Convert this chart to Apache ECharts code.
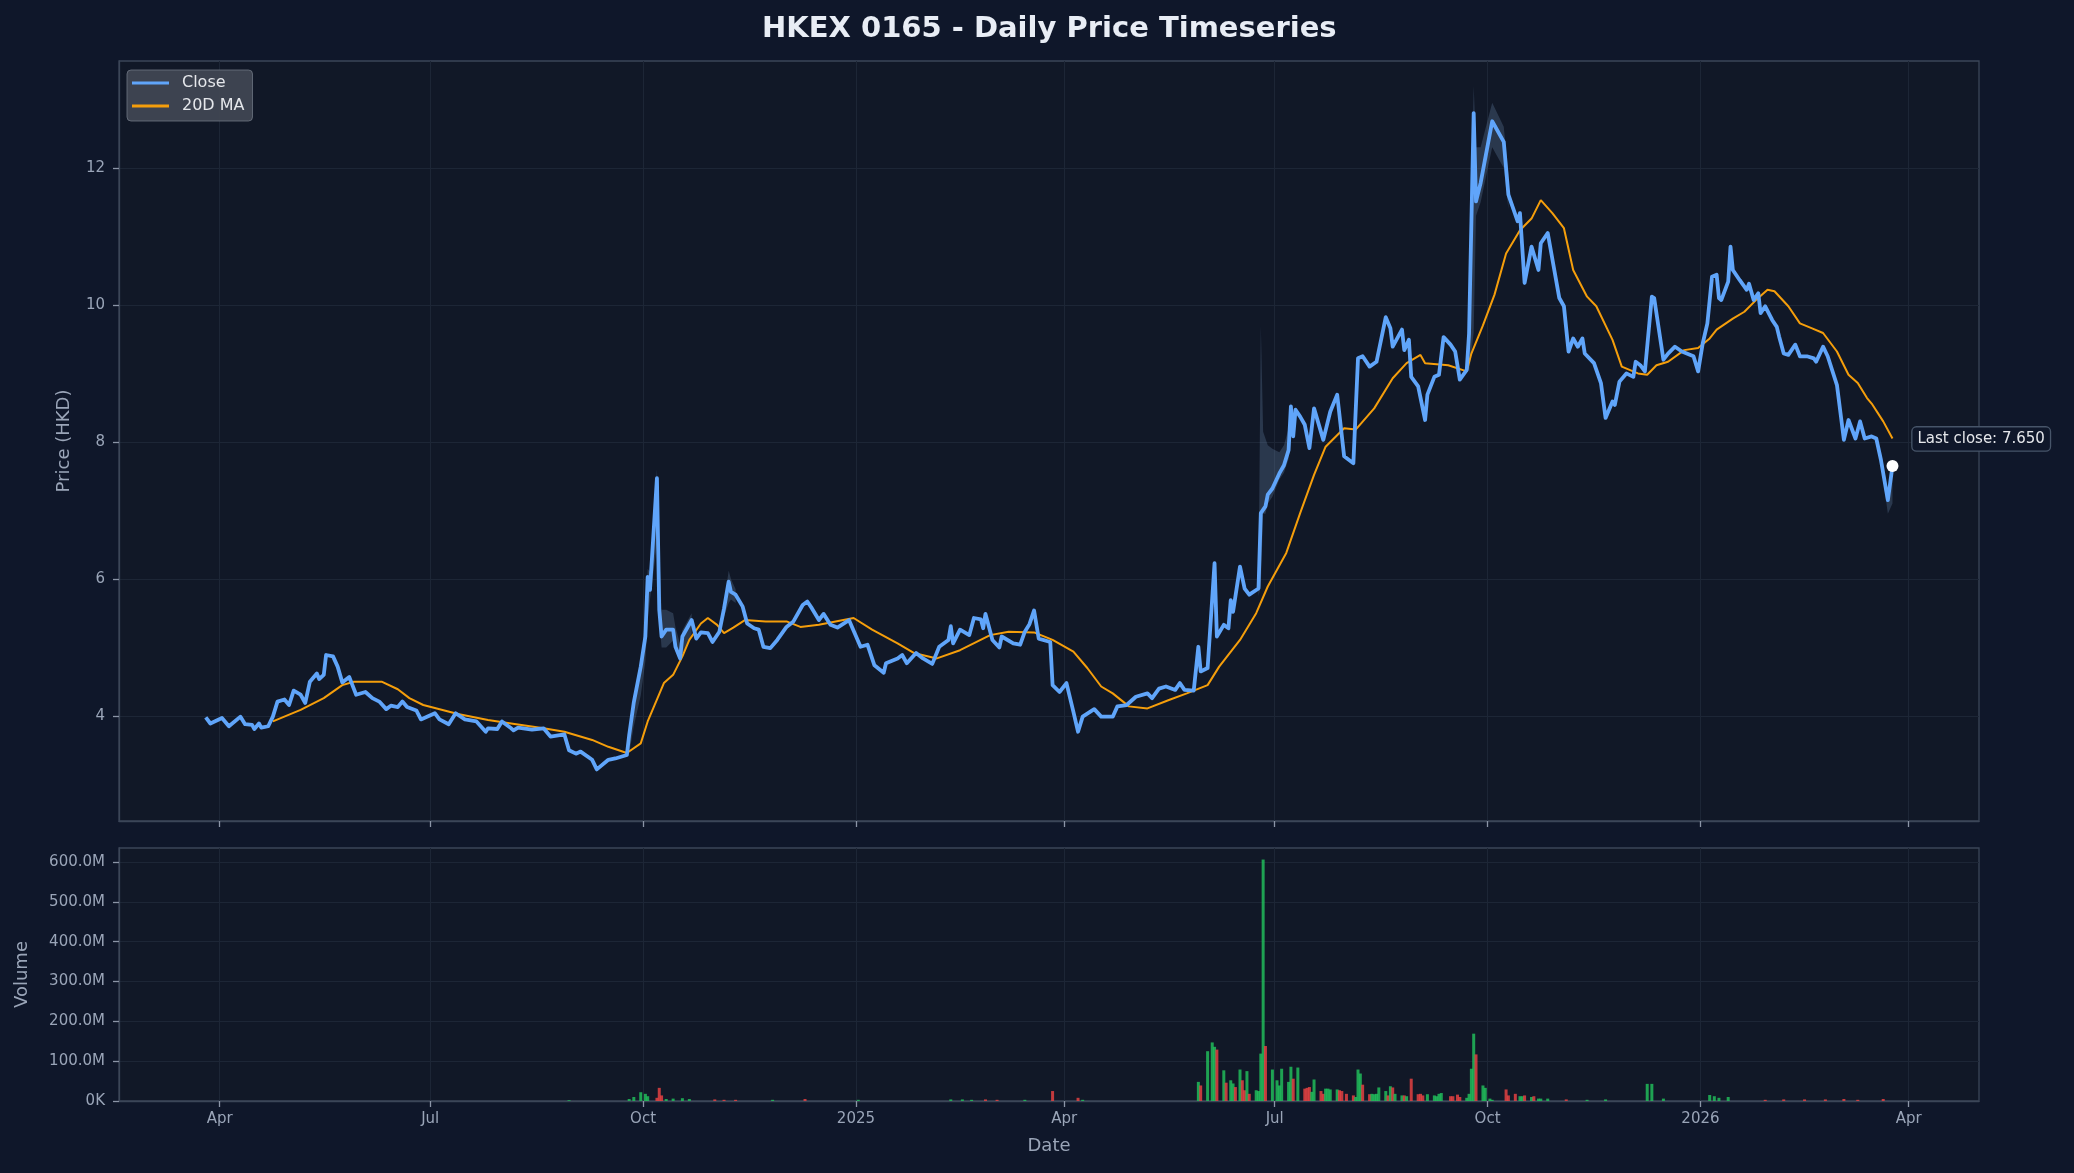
<!DOCTYPE html>
<html><head><meta charset="utf-8">
<script src="https://cdn.jsdelivr.net/npm/echarts@6/dist/echarts.min.js"></script>
<style>html,body{margin:0;padding:0;background:#0f172a;}#c{width:2074px;height:1173px;}</style>
</head><body><div id="c"></div>
<script>
// ---------------- DATA ----------------
const closeDates = ['2024-03-26','2024-03-28','2024-04-02','2024-04-05','2024-04-10','2024-04-12','2024-04-15','2024-04-16','2024-04-18','2024-04-19','2024-04-22','2024-04-24','2024-04-26','2024-04-29','2024-05-01','2024-05-03','2024-05-06','2024-05-08','2024-05-10','2024-05-13','2024-05-14','2024-05-16','2024-05-17','2024-05-20','2024-05-22','2024-05-24','2024-05-27','2024-05-30','2024-06-03','2024-06-06','2024-06-09','2024-06-12','2024-06-14','2024-06-17','2024-06-19','2024-06-21','2024-06-25','2024-06-27','2024-07-03','2024-07-05','2024-07-09','2024-07-12','2024-07-16','2024-07-21','2024-07-25','2024-07-26','2024-07-30','2024-08-01','2024-08-05','2024-08-06','2024-08-08','2024-08-14','2024-08-19','2024-08-22','2024-08-28','2024-08-30','2024-09-02','2024-09-04','2024-09-09','2024-09-11','2024-09-16','2024-09-19','2024-09-24','2024-09-25','2024-09-27','2024-09-30','2024-10-02','2024-10-03','2024-10-04','2024-10-07','2024-10-08','2024-10-09','2024-10-11','2024-10-14','2024-10-15','2024-10-17','2024-10-18','2024-10-22','2024-10-24','2024-10-26','2024-10-29','2024-10-31','2024-11-03','2024-11-05','2024-11-07','2024-11-08','2024-11-10','2024-11-13','2024-11-15','2024-11-18','2024-11-20','2024-11-22','2024-11-25','2024-11-28','2024-12-02','2024-12-05','2024-12-09','2024-12-11','2024-12-13','2024-12-16','2024-12-18','2024-12-21','2024-12-24','2024-12-29','2025-01-03','2025-01-06','2025-01-09','2025-01-13','2025-01-14','2025-01-19','2025-01-21','2025-01-23','2025-01-27','2025-01-30','2025-02-03','2025-02-06','2025-02-10','2025-02-11','2025-02-12','2025-02-15','2025-02-19','2025-02-21','2025-02-24','2025-02-25','2025-02-26','2025-03-01','2025-03-04','2025-03-05','2025-03-10','2025-03-13','2025-03-15','2025-03-17','2025-03-19','2025-03-21','2025-03-26','2025-03-27','2025-03-30','2025-04-02','2025-04-05','2025-04-07','2025-04-09','2025-04-14','2025-04-17','2025-04-22','2025-04-24','2025-04-28','2025-05-02','2025-05-07','2025-05-09','2025-05-12','2025-05-15','2025-05-19','2025-05-21','2025-05-23','2025-05-27','2025-05-29','2025-05-30','2025-06-02','2025-06-05','2025-06-06','2025-06-09','2025-06-11','2025-06-12','2025-06-13','2025-06-16','2025-06-18','2025-06-20','2025-06-24','2025-06-25','2025-06-27','2025-06-28','2025-06-30','2025-07-03','2025-07-05','2025-07-07','2025-07-08','2025-07-09','2025-07-10','2025-07-12','2025-07-14','2025-07-16','2025-07-18','2025-07-22','2025-07-25','2025-07-28','2025-07-31','2025-08-04','2025-08-06','2025-08-08','2025-08-11','2025-08-14','2025-08-18','2025-08-20','2025-08-21','2025-08-25','2025-08-26','2025-08-28','2025-08-29','2025-09-01','2025-09-04','2025-09-05','2025-09-08','2025-09-10','2025-09-12','2025-09-15','2025-09-17','2025-09-19','2025-09-22','2025-09-23','2025-09-25','2025-09-26','2025-09-28','2025-10-03','2025-10-08','2025-10-10','2025-10-14','2025-10-15','2025-10-17','2025-10-20','2025-10-23','2025-10-24','2025-10-27','2025-11-01','2025-11-03','2025-11-05','2025-11-07','2025-11-09','2025-11-11','2025-11-12','2025-11-16','2025-11-19','2025-11-21','2025-11-24','2025-11-25','2025-11-27','2025-11-30','2025-12-03','2025-12-04','2025-12-06','2025-12-08','2025-12-11','2025-12-12','2025-12-16','2025-12-18','2025-12-21','2025-12-24','2025-12-29','2025-12-31','2026-01-02','2026-01-04','2026-01-06','2026-01-08','2026-01-09','2026-01-10','2026-01-13','2026-01-14','2026-01-15','2026-01-18','2026-01-21','2026-01-22','2026-01-24','2026-01-26','2026-01-27','2026-01-29','2026-02-01','2026-02-03','2026-02-04','2026-02-06','2026-02-08','2026-02-11','2026-02-13','2026-02-16','2026-02-19','2026-02-20','2026-02-23','2026-02-25','2026-03-01','2026-03-04','2026-03-06','2026-03-09','2026-03-11','2026-03-13','2026-03-16','2026-03-18','2026-03-20','2026-03-23','2026-03-25'];
const closePrice = [3.98,3.89,3.97,3.85,3.99,3.88,3.87,3.81,3.89,3.83,3.85,3.99,4.21,4.24,4.16,4.37,4.31,4.19,4.50,4.62,4.54,4.60,4.89,4.87,4.72,4.49,4.57,4.31,4.35,4.26,4.21,4.10,4.15,4.13,4.21,4.13,4.08,3.95,4.04,3.95,3.88,4.04,3.95,3.92,3.77,3.82,3.81,3.92,3.82,3.79,3.83,3.80,3.82,3.70,3.73,3.50,3.45,3.48,3.36,3.22,3.36,3.38,3.43,3.72,4.20,4.72,5.16,6.03,5.84,7.47,5.55,5.16,5.26,5.26,5.01,4.84,5.16,5.40,5.13,5.22,5.21,5.08,5.23,5.57,5.96,5.81,5.77,5.60,5.35,5.28,5.26,5.01,4.99,5.11,5.30,5.38,5.62,5.67,5.57,5.40,5.49,5.33,5.29,5.40,5.01,5.04,4.74,4.63,4.77,4.84,4.89,4.77,4.92,4.84,4.76,5.01,5.11,5.31,5.06,5.26,5.18,5.43,5.41,5.28,5.49,5.11,5.00,5.16,5.06,5.04,5.23,5.34,5.54,5.13,5.08,4.45,4.35,4.48,4.06,3.77,3.99,4.10,3.99,3.99,4.14,4.16,4.28,4.33,4.26,4.40,4.43,4.38,4.48,4.38,4.37,5.01,4.65,4.70,6.23,5.16,5.33,5.28,5.69,5.52,6.18,5.86,5.77,5.86,6.96,7.06,7.23,7.32,7.54,7.66,7.88,8.52,8.08,8.47,8.37,8.25,7.91,8.49,8.03,8.44,8.69,7.79,7.69,9.22,9.25,9.10,9.17,9.82,9.66,9.39,9.64,9.34,9.49,8.95,8.81,8.32,8.69,8.95,8.98,9.53,9.42,9.32,8.91,9.05,9.58,12.80,11.51,11.78,12.68,12.38,11.61,11.22,11.34,10.32,10.85,10.51,10.90,11.05,10.10,9.98,9.32,9.51,9.39,9.51,9.29,9.15,8.86,8.35,8.59,8.54,8.88,9.00,8.95,9.17,9.12,9.03,10.12,10.10,9.20,9.29,9.39,9.32,9.25,9.03,9.44,9.73,10.41,10.44,10.10,10.07,10.34,10.85,10.51,10.36,10.22,10.31,10.07,10.17,9.88,9.98,9.78,9.68,9.54,9.29,9.27,9.42,9.25,9.25,9.22,9.17,9.39,9.25,8.83,8.03,8.32,8.05,8.30,8.05,8.08,8.05,7.74,7.15,7.65];

const maDates = ['2024-04-24','2024-05-06','2024-05-16','2024-05-24','2024-05-29','2024-06-10','2024-06-17','2024-06-22','2024-06-28','2024-07-13','2024-07-26','2024-08-05','2024-08-19','2024-08-28','2024-09-09','2024-09-16','2024-09-24','2024-09-30','2024-10-03','2024-10-10','2024-10-14','2024-10-18','2024-10-21','2024-10-26','2024-10-29','2024-11-02','2024-11-05','2024-11-09','2024-11-14','2024-11-23','2024-12-02','2024-12-08','2024-12-16','2024-12-31','2025-01-08','2025-01-19','2025-01-26','2025-02-05','2025-02-15','2025-02-28','2025-03-08','2025-03-19','2025-03-27','2025-04-05','2025-04-11','2025-04-17','2025-04-22','2025-04-29','2025-05-07','2025-05-16','2025-05-24','2025-06-02','2025-06-07','2025-06-16','2025-06-23','2025-06-28','2025-07-06','2025-07-12','2025-07-18','2025-07-23','2025-07-31','2025-08-05','2025-08-13','2025-08-21','2025-08-27','2025-09-02','2025-09-04','2025-09-14','2025-09-22','2025-09-24','2025-09-29','2025-10-04','2025-10-09','2025-10-15','2025-10-20','2025-10-24','2025-10-29','2025-11-03','2025-11-07','2025-11-13','2025-11-17','2025-11-24','2025-11-28','2025-12-05','2025-12-09','2025-12-13','2025-12-18','2025-12-25','2025-12-31','2026-01-05','2026-01-08','2026-01-15','2026-01-20','2026-01-25','2026-01-30','2026-02-02','2026-02-08','2026-02-13','2026-02-18','2026-02-23','2026-03-01','2026-03-06','2026-03-10','2026-03-14','2026-03-16','2026-03-21','2026-03-25'];
const ma20 = [3.92,4.09,4.26,4.45,4.50,4.50,4.39,4.26,4.16,4.03,3.94,3.89,3.82,3.77,3.65,3.55,3.46,3.60,3.92,4.48,4.60,4.87,5.11,5.35,5.43,5.33,5.21,5.29,5.40,5.38,5.38,5.30,5.33,5.43,5.26,5.06,4.92,4.84,4.96,5.18,5.23,5.22,5.11,4.94,4.70,4.43,4.33,4.14,4.11,4.23,4.33,4.45,4.72,5.11,5.50,5.89,6.38,6.96,7.52,7.93,8.20,8.18,8.49,8.93,9.15,9.27,9.15,9.12,9.03,9.29,9.70,10.15,10.75,11.09,11.26,11.53,11.34,11.12,10.51,10.12,9.98,9.49,9.10,9.00,8.98,9.12,9.17,9.34,9.37,9.51,9.64,9.80,9.90,10.07,10.22,10.20,9.98,9.73,9.66,9.59,9.32,8.98,8.86,8.64,8.56,8.30,8.05];

// daily high/low range where it shows beyond the close line (null = gap)
const bandDates = ['2024-09-25','2024-09-27','2024-09-30','2024-10-02','2024-10-03','2024-10-04','2024-10-07','2024-10-08','2024-10-09','2024-10-11','2024-10-14','2024-10-15','2024-10-17','2024-10-18','2024-10-22',null,
  '2024-11-05','2024-11-07','2024-11-08','2024-11-10',null,
  '2025-06-24','2025-06-25','2025-06-26','2025-06-27','2025-06-28','2025-06-30','2025-07-03','2025-07-05','2025-07-07','2025-07-08',null,
  '2025-09-23','2025-09-25','2025-09-26','2025-09-28','2025-10-03','2025-10-08','2025-10-10',null,
  '2026-03-20','2026-03-23','2026-03-25'];
const bandHigh = [3.80,4.30,4.80,5.40,6.15,6.10,7.60,6.40,5.55,5.55,5.50,5.30,5.05,5.25,5.50,null,5.65,6.12,6.00,5.85,null,5.95,9.70,8.15,8.05,7.95,7.90,7.85,7.95,8.20,8.60,null,9.70,13.20,12.30,12.30,12.95,12.60,11.90,null,7.85,7.30,7.70];
const bandLow = [3.45,3.85,4.30,4.80,5.40,5.70,6.50,5.40,5.00,5.00,5.10,4.95,4.78,4.90,5.20,null,5.45,5.65,5.70,5.65,null,5.75,5.90,6.95,6.95,7.10,7.20,7.45,7.55,7.75,8.05,null,9.00,9.60,11.30,11.50,12.30,12.00,11.40,null,7.70,6.95,7.10];

const volDates = ['2024-08-30','2024-09-25','2024-09-27','2024-09-30','2024-10-02','2024-10-03','2024-10-07','2024-10-08','2024-10-09','2024-10-11','2024-10-14','2024-10-18','2024-10-21','2024-11-01','2024-11-05','2024-11-10','2024-11-26','2024-12-10','2025-01-02','2025-02-11','2025-02-16','2025-02-20','2025-02-26','2025-03-03','2025-03-15','2025-03-27','2025-04-07','2025-04-09',
 '2025-05-29','2025-05-30','2025-06-02','2025-06-04','2025-06-05','2025-06-06','2025-06-09','2025-06-10','2025-06-12','2025-06-13','2025-06-14','2025-06-16','2025-06-17','2025-06-18','2025-06-19','2025-06-20','2025-06-23','2025-06-24','2025-06-25','2025-06-26','2025-06-27','2025-06-30','2025-07-02','2025-07-03','2025-07-04','2025-07-07','2025-07-08','2025-07-09','2025-07-11','2025-07-14','2025-07-15','2025-07-16','2025-07-17','2025-07-18','2025-07-21','2025-07-22','2025-07-23','2025-07-24','2025-07-25','2025-07-28','2025-07-29','2025-07-30','2025-08-01','2025-08-04','2025-08-05','2025-08-06','2025-08-07','2025-08-08','2025-08-11','2025-08-12','2025-08-13','2025-08-14','2025-08-15','2025-08-18','2025-08-19','2025-08-20','2025-08-21','2025-08-22','2025-08-25','2025-08-26','2025-08-27','2025-08-29','2025-09-01','2025-09-02','2025-09-03','2025-09-05','2025-09-08','2025-09-09','2025-09-10','2025-09-11','2025-09-15','2025-09-16','2025-09-18','2025-09-19','2025-09-22','2025-09-23','2025-09-24','2025-09-25','2025-09-26','2025-09-29','2025-09-30','2025-10-02','2025-10-03','2025-10-09','2025-10-10','2025-10-13','2025-10-15','2025-10-16','2025-10-17','2025-10-20','2025-10-21','2025-10-23','2025-10-24','2025-10-27',
 '2025-11-04','2025-11-13','2025-11-21','2025-12-09','2025-12-11','2025-12-16','2026-01-05','2026-01-07','2026-01-09','2026-01-13','2026-01-29','2026-02-06','2026-02-15','2026-02-24','2026-03-04','2026-03-10','2026-03-21'];
const volumeM = [2,5,10,22,18,12,8,33,14,5,6,7,5,4,3,3,3,5,3,4,4,3,4,3,3,25,8,3,
 48,39,125,147,136,129,77,46,52,44,35,79,52,27,75,18,27,25,119,606,138,79,52,39,81,48,86,56,84,31,33,35,23,54,25,18,31,31,29,29,27,25,18,14,10,79,69,41,17,18,17,18,34,25,14,37,34,18,14,14,12,56,17,18,14,17,14,12,18,20,12,12,16,10,8,18,81,169,117,39,33,6,3,29,14,18,12,12,14,10,12,6,6,6,
 4,3,4,43,43,6,15,12,8,10,3,4,4,4,5,3,5];
const volUp = [1,1,1,1,1,1,0,0,0,1,1,1,1,0,0,0,1,0,1,1,1,1,0,0,1,0,0,1,
 1,0,1,1,1,0,1,0,1,1,0,1,0,0,1,0,1,1,1,1,0,1,1,1,1,1,1,0,1,0,0,0,1,1,0,0,1,1,1,1,0,0,0,0,1,1,1,0,0,1,1,1,1,1,0,1,0,1,1,0,1,0,0,0,0,1,1,1,1,1,0,0,0,0,1,1,1,1,0,1,1,1,1,0,0,0,1,1,0,1,0,1,1,1,
 0,1,1,1,1,1,1,1,1,1,0,0,0,0,0,0,0];

const xTickDates = ['2024-04-01','2024-07-01','2024-10-01','2025-01-01','2025-04-01','2025-07-01','2025-10-01','2026-01-01','2026-04-01'];
const xTickLabels = ['Apr','Jul','Oct','2025','Apr','Jul','Oct','2026','Apr'];
const priceTicks = [4, 6, 8, 10, 12];
const volTicksM = [0, 100, 200, 300, 400, 500, 600];

// ---------------- CHART ----------------
const ts = s => +echarts.time.parse(s);
const xTickTs = xTickDates.map(ts);
const xMin = ts('2024-02-17 12:00:00'), xMax = ts('2026-05-01 09:30:00');
const bandSegs = [];
let cur = null;
bandDates.forEach((d, i) => {
  if (d === null) { cur = null; return; }
  if (!cur) { cur = []; bandSegs.push(cur); }
  cur.push([ts(d), bandHigh[i], bandLow[i]]);
});
const FONT = 'DejaVu Sans';
const TXT = '#9aa5b8';
const FRAME = '#3b4658';
const GRIDC = '#1d2636';
const lastIdx = closeDates.length - 1;

const xLabelFmt = v => {
  let best = 0;
  xTickTs.forEach((t, i) => { if (Math.abs(t - v) < Math.abs(xTickTs[best] - v)) best = i; });
  return xTickLabels[best];
};
function xAxis(gi, showLabel) {
  return {
    type: 'value', gridIndex: gi, min: xMin, max: xMax, scale: true,
    axisLine: { show: true, lineStyle: { color: FRAME, width: 1.3 } },
    axisTick: { show: true, length: 6, lineStyle: { color: '#8b95a7', width: 1.3 }, customValues: xTickTs },
    axisLabel: { show: showLabel, customValues: xTickTs, formatter: xLabelFmt, color: TXT, fontSize: 15, fontFamily: FONT, margin: 11, hideOverlap: false },
    splitLine: { show: true, lineStyle: { color: GRIDC, width: 1 } },
    name: showLabel ? 'Date' : '', nameLocation: 'middle', nameGap: 36,
    nameTextStyle: { color: TXT, fontSize: 18, fontFamily: FONT }
  };
}

const chart = echarts.init(document.getElementById('c'), null, { renderer: 'canvas' });
chart.setOption({
  backgroundColor: '#0f172a',
  animation: false,
  textStyle: { fontFamily: FONT },
  title: {
    text: 'HKEX 0165 - Daily Price Timeseries', left: 762, top: 15, padding: 0,
    textStyle: { color: '#e8edf5', fontSize: 29, fontWeight: 'bold', fontFamily: FONT }
  },
  legend: {
    data: ['Close', '20D MA'], orient: 'vertical', left: 127, top: 70,
    padding: [5, 8, 7, 5], itemGap: 7, itemWidth: 37, itemHeight: 3, icon: 'rect',
    backgroundColor: 'rgba(64,70,82,0.95)', borderColor: 'rgba(110,117,130,0.8)', borderWidth: 1, borderRadius: 4,
    textStyle: { color: '#e5e7eb', fontSize: 16, lineHeight: 16, padding: [0, 0, 0, 8], fontFamily: FONT }
  },
  grid: [
    { left: 119, right: 95, top: 61, height: 760, show: true, backgroundColor: '#111827', borderColor: FRAME, borderWidth: 1.3 },
    { left: 119, right: 95, top: 848, height: 253, show: true, backgroundColor: '#111827', borderColor: FRAME, borderWidth: 1.3 }
  ],
  xAxis: [xAxis(0, false), xAxis(1, true)],
  yAxis: [
    {
      type: 'value', gridIndex: 0, min: 2.467, max: 13.56,
      axisLine: { show: true, lineStyle: { color: FRAME, width: 1.3 } },
      axisTick: { show: true, length: 6, lineStyle: { color: '#8b95a7', width: 1.3 }, customValues: priceTicks },
      axisLabel: { customValues: priceTicks, color: TXT, fontSize: 15, fontFamily: FONT, margin: 14 },
      splitLine: { show: true, lineStyle: { color: GRIDC, width: 1 } },
      name: 'Price (HKD)', nameLocation: 'middle', nameGap: 46,
      nameTextStyle: { color: TXT, fontSize: 18, fontFamily: FONT }
    },
    {
      type: 'value', gridIndex: 1, min: 0, max: 635,
      axisLine: { show: true, lineStyle: { color: FRAME, width: 1.3 } },
      axisTick: { show: true, length: 6, lineStyle: { color: '#8b95a7', width: 1.3 }, customValues: volTicksM },
      axisLabel: { customValues: volTicksM, color: TXT, fontSize: 15, fontFamily: FONT, margin: 14,
        formatter: v => v === 0 ? '0K' : v.toFixed(1) + 'M' },
      splitLine: { show: true, lineStyle: { color: GRIDC, width: 1 } },
      name: 'Volume', nameLocation: 'middle', nameGap: 88,
      nameTextStyle: { color: TXT, fontSize: 18, fontFamily: FONT }
    }
  ],
  series: [
    {
      name: 'Range', type: 'custom', xAxisIndex: 0, yAxisIndex: 0, z: 1, silent: true,
      data: bandSegs.map((s, i) => [s[0][0], s[0][1], i]),
      encode: { x: 0, y: 1 },
      renderItem: (params, api) => {
        const seg = bandSegs[params.dataIndex];
        const top = seg.map(p => api.coord([p[0], p[1]]));
        const bot = seg.slice().reverse().map(p => api.coord([p[0], p[2]]));
        return { type: 'polygon', shape: { points: top.concat(bot) }, style: { fill: 'rgba(120,150,190,0.25)' } };
      }
    },
    {
      name: 'Close', type: 'line', xAxisIndex: 0, yAxisIndex: 0, z: 3,
      data: closeDates.map((d, i) => [ts(d), closePrice[i]]),
      showSymbol: false, color: '#60a5fa',
      lineStyle: { width: 3.8, color: '#60a5fa', join: 'round' },
      markPoint: {
        symbol: 'circle', symbolSize: 12, silent: true,
        itemStyle: { color: '#ffffff' },
        data: [{ coord: [ts(closeDates[lastIdx]), closePrice[lastIdx]] }],
        label: {
          show: true, position: 'right', distance: 5, offset: [9, -27],
          formatter: 'Last close: ' + closePrice[lastIdx].toFixed(3),
          color: '#e5e7eb', fontSize: 15, fontFamily: FONT,
          backgroundColor: '#0f172a', borderColor: '#475569', borderWidth: 1.3, borderRadius: 4, padding: [4, 5]
        }
      }
    },
    {
      name: '20D MA', type: 'line', xAxisIndex: 0, yAxisIndex: 0, z: 2,
      data: maDates.map((d, i) => [ts(d), ma20[i]]),
      showSymbol: false, color: '#f59e0b',
      lineStyle: { width: 2, color: '#f59e0b' }
    },
    {
      name: 'Volume', type: 'bar', xAxisIndex: 1, yAxisIndex: 1, barWidth: 3,
      data: volDates.map((d, i) => ({
        value: [ts(d), volumeM[i]],
        itemStyle: { color: volUp[i] ? 'rgba(34,197,94,0.8)' : 'rgba(239,68,68,0.8)' }
      }))
    }
  ]
});
</script></body></html>
